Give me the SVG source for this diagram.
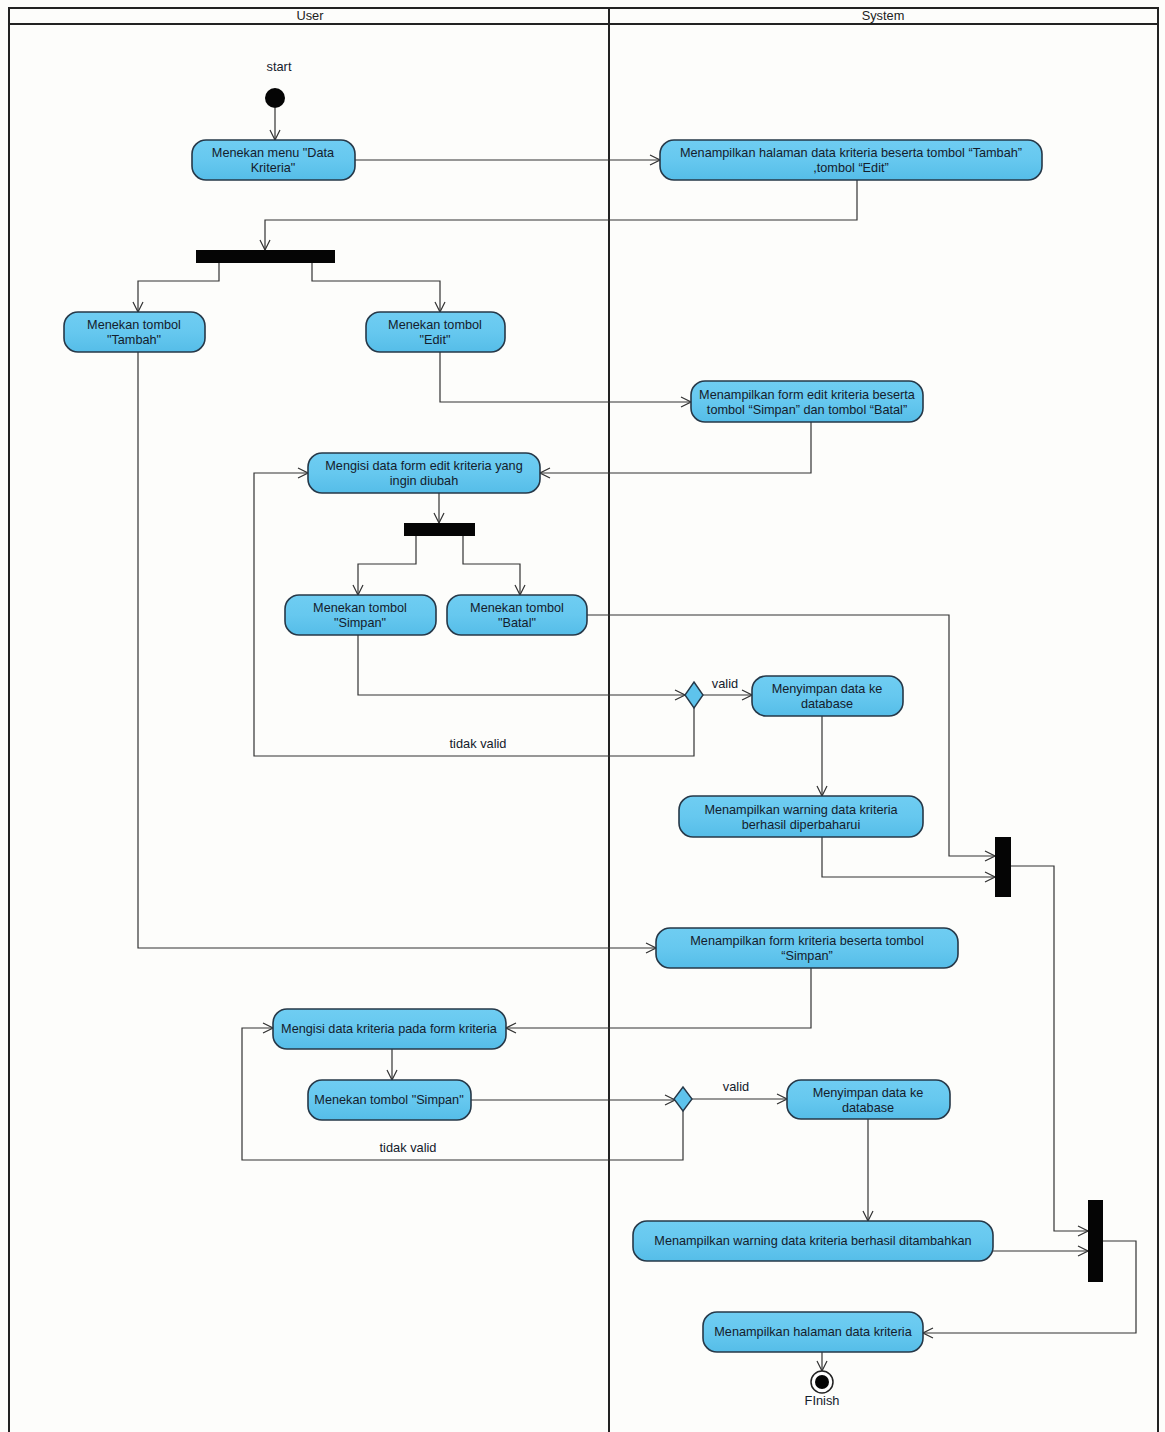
<svg xmlns="http://www.w3.org/2000/svg" width="1165" height="1432" viewBox="0 0 1165 1432">
<defs>
<marker id="arr" markerWidth="12" markerHeight="12" refX="11" refY="6" orient="auto" markerUnits="userSpaceOnUse">
<path d="M1,1 L11,6 L1,11" fill="none" stroke="#333" stroke-width="1.2"/>
</marker>
<linearGradient id="ng" x1="0" y1="0" x2="0" y2="1">
<stop offset="0" stop-color="#6fcdf2"/>
<stop offset="0.5" stop-color="#66c8ef"/>
<stop offset="1" stop-color="#55bde8"/>
</linearGradient>
</defs>
<style>
.node rect{fill:url(#ng);stroke:#263848;stroke-width:1.6}
.node text,.lbl{font-family:"Liberation Sans",Arial,sans-serif;font-size:12.7px;fill:#14202c;text-anchor:middle}
.lbl{font-size:12.8px}
.lane{fill:none;stroke:#222;stroke-width:2}
.hdr{font-family:"Liberation Sans",Arial,sans-serif;font-size:12.8px;fill:#222;text-anchor:middle}
#connectors polyline{fill:none;stroke:#333;stroke-width:1.2;marker-end:url(#arr)}
.bar{fill:#050505}
</style>
<rect x="0" y="0" width="1165" height="1432" fill="#fdfdfb"/>
<g id="swimlanes">
<rect class="lane" x="9" y="8" width="1149" height="1440"/>
<line class="lane" x1="9" y1="24" x2="1158" y2="24"/>
<line class="lane" x1="609" y1="8" x2="609" y2="1432" stroke-width="2.5"/>
<text class="hdr" x="310" y="20">User</text>
<text class="hdr" x="883" y="20">System</text>
</g>
<g id="connectors">
<polyline points="275,108 275,140"/>
<polyline points="355,160 660,160"/>
<polyline points="857,180 857,220 265,220 265,250"/>
<polyline points="219,263 219,281 138,281 138,312"/>
<polyline points="312,263 312,281 440,281 440,312"/>
<polyline points="440,352 440,402 691,402"/>
<polyline points="811,422 811,473 540,473"/>
<polyline points="439,493 439,523"/>
<polyline points="416,536 416,564 358,564 358,595"/>
<polyline points="463,536 463,564 520,564 520,595"/>
<polyline points="358,635 358,695 685,695"/>
<polyline points="703,695 752,695"/>
<polyline points="694,708 694,756 254,756 254,473 308,473"/>
<polyline points="822,716 822,796"/>
<polyline points="822,837 822,877 995,877"/>
<polyline points="587,615 949,615 949,856 995,856"/>
<polyline points="138,352 138,948 656,948"/>
<polyline points="811,968 811,1028 506,1028"/>
<polyline points="392,1049 392,1080"/>
<polyline points="471,1100 675,1100"/>
<polyline points="692,1099 787,1099"/>
<polyline points="683,1111 683,1160 242,1160 242,1028 273,1028"/>
<polyline points="868,1119 868,1221"/>
<polyline points="1011,866 1054,866 1054,1231 1088,1231"/>
<polyline points="993,1251 1088,1251"/>
<polyline points="1103,1241 1136,1241 1136,1333 923,1333"/>
<polyline points="822,1352 822,1371"/>
<text class="lbl" x="725" y="688">valid</text>
<text class="lbl" x="478" y="748">tidak valid</text>
<text class="lbl" x="736" y="1091">valid</text>
<text class="lbl" x="408" y="1152">tidak valid</text>
</g>
<g id="start">
<circle cx="275" cy="98" r="10" fill="#050505"/>
<text class="lbl" x="279" y="71">start</text>
</g>
<g id="n1" class="node"><rect x="192" y="140" width="163" height="40" rx="14"/>
<text x="273" y="157">Menekan menu "Data</text><text x="273" y="172">Kriteria"</text></g>
<g id="n2" class="node"><rect x="660" y="140" width="382" height="40" rx="14"/>
<text x="851" y="157">Menampilkan halaman data kriteria beserta tombol “Tambah”</text><text x="851" y="172">,tombol “Edit”</text></g>
<g id="fork1"><rect class="bar" x="196" y="250" width="139" height="13"/></g>
<g id="n3" class="node"><rect x="64" y="312" width="141" height="40" rx="14"/>
<text x="134" y="329">Menekan tombol</text><text x="134" y="344">"Tambah"</text></g>
<g id="n4" class="node"><rect x="366" y="312" width="139" height="40" rx="14"/>
<text x="435" y="329">Menekan tombol</text><text x="435" y="344">"Edit"</text></g>
<g id="n5" class="node"><rect x="691" y="381" width="232" height="41" rx="14"/>
<text x="807" y="399">Menampilkan form edit kriteria beserta</text><text x="807" y="414">tombol “Simpan” dan tombol “Batal”</text></g>
<g id="n6" class="node"><rect x="308" y="453" width="232" height="40" rx="14"/>
<text x="424" y="470">Mengisi data form edit kriteria yang</text><text x="424" y="485">ingin diubah</text></g>
<g id="fork2"><rect class="bar" x="404" y="523" width="71" height="13"/></g>
<g id="n7" class="node"><rect x="285" y="595" width="151" height="40" rx="14"/>
<text x="360" y="612">Menekan tombol</text><text x="360" y="627">"Simpan"</text></g>
<g id="n8" class="node"><rect x="447" y="595" width="140" height="40" rx="14"/>
<text x="517" y="612">Menekan tombol</text><text x="517" y="627">"Batal"</text></g>
<g id="d1"><path d="M694,682 L703,695 L694,708 L685,695 Z" fill="#5ec3ec" stroke="#263848" stroke-width="1.4"/></g>
<g id="n9" class="node"><rect x="752" y="676" width="151" height="40" rx="14"/>
<text x="827" y="693">Menyimpan data ke</text><text x="827" y="708">database</text></g>
<g id="n10" class="node"><rect x="679" y="796" width="244" height="41" rx="14"/>
<text x="801" y="814">Menampilkan warning data kriteria</text><text x="801" y="829">berhasil diperbaharui</text></g>
<g id="join1"><rect class="bar" x="995" y="837" width="16" height="60"/></g>
<g id="n11" class="node"><rect x="656" y="928" width="302" height="40" rx="14"/>
<text x="807" y="945">Menampilkan form kriteria beserta tombol</text><text x="807" y="960">“Simpan”</text></g>
<g id="n12" class="node"><rect x="273" y="1009" width="233" height="40" rx="14"/>
<text x="389" y="1033">Mengisi data kriteria pada form kriteria</text></g>
<g id="n16" class="node"><rect x="308" y="1080" width="163" height="40" rx="14"/>
<text x="389" y="1104">Menekan tombol "Simpan"</text></g>
<g id="d2"><path d="M683,1087 L692,1099 L683,1111 L674,1099 Z" fill="#5ec3ec" stroke="#263848" stroke-width="1.4"/></g>
<g id="n13" class="node"><rect x="787" y="1080" width="163" height="39" rx="14"/>
<text x="868" y="1097">Menyimpan data ke</text><text x="868" y="1112">database</text></g>
<g id="n14" class="node"><rect x="633" y="1221" width="360" height="40" rx="14"/>
<text x="813" y="1245">Menampilkan warning data kriteria berhasil ditambahkan</text></g>
<g id="join2"><rect class="bar" x="1088" y="1200" width="15" height="82"/></g>
<g id="n15" class="node"><rect x="703" y="1312" width="220" height="40" rx="14"/>
<text x="813" y="1336">Menampilkan halaman data kriteria</text></g>
<g id="finish">
<circle cx="822" cy="1382" r="11" fill="#fff" stroke="#222" stroke-width="1.5"/>
<circle cx="822" cy="1382" r="7" fill="#050505"/>
<text class="lbl" x="822" y="1405">FInish</text>
</g>
</svg>
